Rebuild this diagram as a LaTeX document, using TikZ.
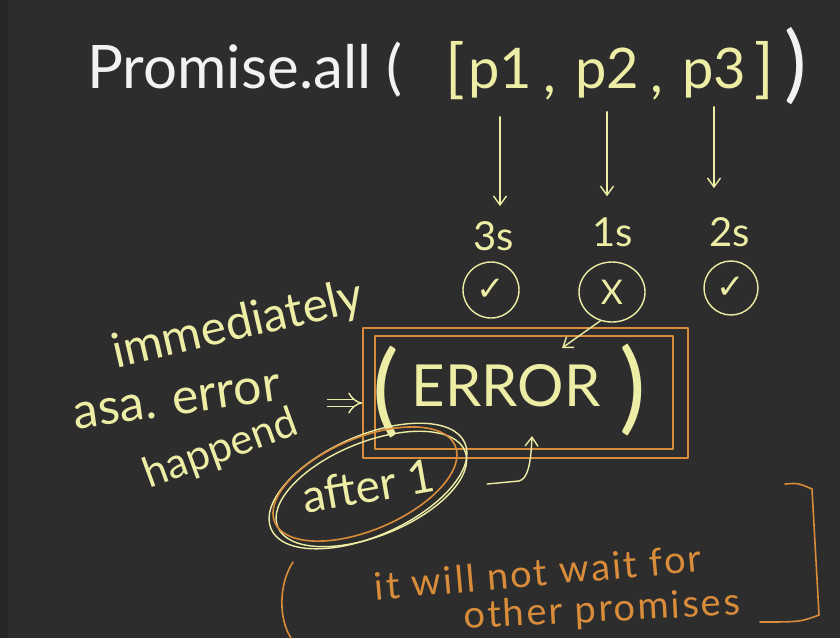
\documentclass[tikz,border=0pt]{standalone}
\usepackage{fontspec}
\setmainfont{Lato}
\newfontfamily\symf{DejaVu Sans}
\usetikzlibrary{arrows.meta,shapes.geometric}
\definecolor{bg}{HTML}{2D2D2D}
\definecolor{edge}{HTML}{262626}
\definecolor{wcol}{HTML}{F2F2F2}
\definecolor{ycol}{HTML}{EEEDA6}
\definecolor{ocol}{HTML}{D98D3A}
\newcommand\myfs[1]{\fontsize{#1}{#1}\selectfont}
\begin{document}
\begin{tikzpicture}[x=1pt,y=-1pt,
  wtext/.style={text=wcol, inner sep=1pt},
  ytext/.style={text=ycol, inner sep=1pt},
  otext/.style={text=ocol, inner sep=1pt},
  yline/.style={draw=ycol, line width=1.4pt, line cap=round, line join=round},
  oline/.style={draw=ocol, line width=1.6pt, line cap=round, line join=round},
  yarr/.style={yline, -{Straight Barb[length=9pt,width=13pt]}},
  imp/.style={draw=ycol, line width=1.4pt, double=bg, double distance=6pt, -{Implies}},
  tick/.style={circle, yline, text=ycol, inner sep=0pt},
]
\fill[bg] (0,0) rectangle (840,638);
\fill[edge] (0,0) rectangle (8,638);
\useasboundingbox (0,0) rectangle (840,638);

% title
\node[wtext, anchor=base, font=\myfs{60}] (title) at (245,88) {Promise.all (};
\node[ytext, anchor=base, font=\myfs{64}] (lb) at (455,90) {[};
\node[ytext, anchor=base, font=\myfs{56}] (p1) at (500,88) {p1};
\node[ytext, anchor=base, font=\myfs{56}] (cm1) at (550,92) {,};
\node[ytext, anchor=base, font=\myfs{56}] (p2) at (607,88) {p2};
\node[ytext, anchor=base, font=\myfs{56}] (cm2) at (657,92) {,};
\node[ytext, anchor=base, font=\myfs{56}] (p3) at (714,88) {p3};
\node[ytext, anchor=base, font=\myfs{64}] (rb) at (764,90) {]};
\node[wtext, anchor=base, font=\myfs{84}] (cp) at (796,92) {)};

% timings
\node[ytext, font=\myfs{40}] (t3) at (494,236) {3s};
\node[ytext, font=\myfs{40}] (t1) at (613,232) {1s};
\node[ytext, font=\myfs{40}] (t2) at (730,232) {2s};

\draw[yarr, shorten <=18pt, shorten >=14pt] (p1.south) -- (p1.south |- t3.north);
\draw[yarr, shorten <=13pt, shorten >=20pt] (p2.south) -- (p2.south |- t1.north);
\draw[yarr, shorten <=8pt, shorten >=28pt] (p3.south) -- (p3.south |- t2.north);

% results
\node[tick, minimum size=56pt, font=\symf\myfs{34}] (c1) at (491,290) {✓};
\node[tick, ellipse, minimum width=66pt, minimum height=60pt, font=\myfs{34}] (c2) at (612,292) {X};
\node[tick, minimum size=54pt, font=\symf\myfs{34}] (c3) at (731,288) {✓};

% error box
\node[oline, rectangle, minimum width=325pt, minimum height=130pt] (errbox) at (525.5,393) {};
\draw[oline] ([shift={(13,9)}]errbox.north west) rectangle ([shift={(-16,-10)}]errbox.south east);
\node[ytext, font=\myfs{100}] (lpar) at (386,392) {(};
\node[ytext, font=\myfs{58}] (err) at (506,386) {ERROR};
\node[ytext, font=\myfs{100}] (rpar) at (633,390) {)};

\coordinate (errtip) at (562,348);
\draw[yarr] (c2.-112) -- (errtip);

% left notes
\node[ytext, font=\myfs{48}, rotate=13] (imm) at (238,326) {immediately};
\node[ytext, font=\myfs{50}, rotate=8] (asa) at (177,402) {asa. error};
\node[ytext, font=\myfs{42}, rotate=20] (hap) at (221,450) {happend};
\coordinate (impA) at (327,403);
\draw[imp] (impA) -- (impA -| errbox.west);

% after 1
\node[ytext, font=\myfs{46}, rotate=10] (after) at (368,486) {after 1};
\draw[yline, rotate around={24:(after.center)}] (after.center) ellipse [x radius=106pt, y radius=50pt];
\draw[yline, rotate around={22:(after.center)}] ([shift={(2,4)}]after.center) ellipse [x radius=101pt, y radius=47pt];
\draw[oline, rotate around={23:(after.center)}] ([shift={(-2,-3)}]after.center) ellipse [x radius=98pt, y radius=46pt];

\coordinate (hookstart) at (487,484);
\coordinate (hookend) at (532,436);
\draw[yarr] (hookstart) -- (519,481) .. controls (528,479) and (531,462) .. (hookend);

% bottom note
\node[otext, font=\myfs{38}\addfontfeatures{LetterSpace=6}, rotate=5] (note1) at (538,572) {it will not wait for};
\node[otext, font=\myfs{38}\addfontfeatures{LetterSpace=6}, rotate=3] (note2) at (602,611) {other promises};
\draw[oline] (293,562) .. controls (278,585) and (279,620) .. (291,638);
\draw[oline] (785,484) .. controls (798,483) .. (812,489) -- (819,615) .. controls (800,622) .. (760,622);
\end{tikzpicture}
\end{document}
